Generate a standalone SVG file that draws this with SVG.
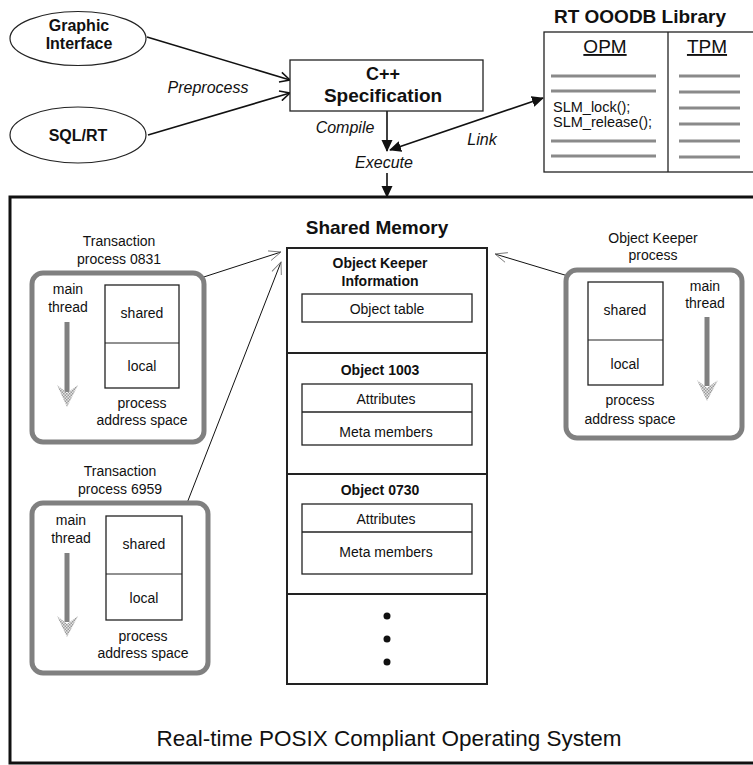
<svg xmlns="http://www.w3.org/2000/svg" width="753" height="765" viewBox="0 0 753 765">
<style>
text{font-family:"Liberation Sans",Arial,sans-serif;fill:#111}
.b{font-weight:bold}
.i{font-style:italic}
.s14{font-size:14px}
.box{fill:#fff;stroke:#222;stroke-width:1.3}
.proc{fill:#fff;stroke:#808080;stroke-width:5}
.gl{stroke:#8a8a8a;stroke-width:3}
.c{stroke:#111;stroke-width:1.6;fill:none}
.thin{stroke:#111;stroke-width:1;fill:none}
.shaft{stroke:#808080;stroke-width:5}
</style>
<defs>
<marker id="open" viewBox="0 0 12 12" refX="11" refY="6" markerWidth="12" markerHeight="12" markerUnits="userSpaceOnUse" orient="auto">
<path d="M1,1 L11,6 L1,11" fill="none" stroke="#111" stroke-width="1.5"/>
</marker>
<marker id="thinopen" viewBox="0 0 14 12" refX="13" refY="6" markerWidth="14" markerHeight="12" markerUnits="userSpaceOnUse" orient="auto">
<path d="M1,1 L13,6 L1,11" fill="none" stroke="#777" stroke-width="0.9"/>
</marker>
<marker id="solid" viewBox="0 0 12 12" refX="11" refY="6" markerWidth="12" markerHeight="12" markerUnits="userSpaceOnUse" orient="auto-start-reverse">
<path d="M0,0.5 L12,6 L0,11.5 Z" fill="#111"/>
</marker>
<pattern id="hatch" width="3" height="3" patternUnits="userSpaceOnUse">
<rect width="3" height="3" fill="#e4e4e4"/>
<rect width="1.5" height="1.5" fill="#9a9a9a"/>
<rect x="1.5" y="1.5" width="1.5" height="1.5" fill="#9a9a9a"/>
</pattern>
</defs>

<g id="connectors">
<line class="c" x1="147" y1="37" x2="290" y2="80" marker-end="url(#open)"/>
<line class="c" x1="148" y1="135" x2="290" y2="93" marker-end="url(#open)"/>
<line class="c" x1="387" y1="111" x2="387" y2="151" marker-end="url(#solid)"/>
<line class="c" x1="390" y1="150" x2="543" y2="98" marker-start="url(#solid)" marker-end="url(#solid)"/>
<line class="c" x1="387" y1="173" x2="387" y2="197" marker-end="url(#solid)"/>
<line class="thin" x1="179" y1="285" x2="281" y2="252" marker-end="url(#thinopen)"/>
<line class="thin" x1="182" y1="516" x2="281" y2="262" marker-end="url(#thinopen)"/>
<line class="thin" x1="588" y1="282" x2="495" y2="254" marker-end="url(#thinopen)"/>
<text class="i" x="208" y="93" font-size="16" text-anchor="middle">Preprocess</text>
<text class="i" x="345" y="133" font-size="16" text-anchor="middle">Compile</text>
<text class="i" x="384" y="168" font-size="16" text-anchor="middle">Execute</text>
<text class="i" x="482" y="145" font-size="16" text-anchor="middle">Link</text>
</g>

<g id="graphic-interface">
<ellipse cx="78" cy="38.5" rx="68" ry="27" fill="#fff" stroke="#222" stroke-width="1.2"/>
<text class="b" x="79" y="31" font-size="16" text-anchor="middle">Graphic</text>
<text class="b" x="79" y="49" font-size="16" text-anchor="middle">Interface</text>
</g>

<g id="sql-rt">
<ellipse cx="78" cy="135" rx="68" ry="28" fill="#fff" stroke="#222" stroke-width="1.2"/>
<text class="b" x="78" y="141" font-size="16" text-anchor="middle">SQL/RT</text>
</g>

<g id="cpp-spec">
<rect class="box" x="290" y="60" width="193" height="51"/>
<text class="b" x="383" y="80" font-size="18" text-anchor="middle">C++</text>
<text class="b" x="383" y="102" font-size="19" text-anchor="middle">Specification</text>
</g>

<g id="library">
<text class="b" x="640" y="23" font-size="19" text-anchor="middle">RT OOODB Library</text>
<rect class="box" x="544" y="32" width="212" height="140"/>
<line x1="668" y1="32" x2="668" y2="172" stroke="#222" stroke-width="1.3"/>
<text x="605" y="53" font-size="19" text-anchor="middle" text-decoration="underline">OPM</text>
<text x="707" y="53" font-size="19" text-anchor="middle" text-decoration="underline">TPM</text>
<line class="gl" x1="551" y1="76" x2="656" y2="76"/>
<line class="gl" x1="551" y1="91" x2="656" y2="91"/>
<text x="553" y="112" font-size="14.5">SLM_lock();</text>
<text x="553" y="127" font-size="14.5">SLM_release();</text>
<line class="gl" x1="551" y1="141" x2="656" y2="141"/>
<line class="gl" x1="551" y1="156" x2="656" y2="156"/>
<line class="gl" x1="679" y1="76" x2="740" y2="76"/>
<line class="gl" x1="679" y1="92" x2="740" y2="92"/>
<line class="gl" x1="679" y1="108" x2="740" y2="108"/>
<line class="gl" x1="679" y1="124" x2="740" y2="124"/>
<line class="gl" x1="679" y1="141" x2="740" y2="141"/>
<line class="gl" x1="679" y1="157" x2="740" y2="157"/>
</g>

<g id="os">
<rect x="10" y="197" width="750" height="566" fill="none" stroke="#111" stroke-width="3"/>
<text x="389" y="746" font-size="22.5" text-anchor="middle">Real-time POSIX Compliant Operating System</text>
</g>

<g id="shared-memory">
<text class="b" x="377" y="234" font-size="19" text-anchor="middle">Shared Memory</text>
<rect x="287" y="248" width="200" height="436" fill="#fff" stroke="#222" stroke-width="2"/>
<line x1="287" y1="353" x2="487" y2="353" stroke="#222" stroke-width="2"/>
<line x1="287" y1="474" x2="487" y2="474" stroke="#222" stroke-width="2"/>
<line x1="287" y1="594" x2="487" y2="594" stroke="#222" stroke-width="2"/>
</g>

<g id="object-keeper-info">
<text class="b" x="380" y="268" font-size="14" text-anchor="middle">Object Keeper</text>
<text class="b" x="380" y="286" font-size="14" text-anchor="middle">Information</text>
<rect class="box" x="302" y="294" width="170" height="28"/>
<text class="s14" x="387" y="314" text-anchor="middle">Object table</text>
</g>

<g id="object-1003">
<text class="b" x="380" y="375" font-size="14" text-anchor="middle">Object 1003</text>
<rect class="box" x="302" y="384" width="170" height="61"/>
<line x1="302" y1="412" x2="472" y2="412" stroke="#222" stroke-width="1.3"/>
<text class="s14" x="386" y="404" text-anchor="middle">Attributes</text>
<text class="s14" x="386" y="437" text-anchor="middle">Meta members</text>
</g>

<g id="object-0730">
<text class="b" x="380" y="495" font-size="14" text-anchor="middle">Object 0730</text>
<rect class="box" x="302" y="504" width="170" height="70"/>
<line x1="302" y1="532" x2="472" y2="532" stroke="#222" stroke-width="1.3"/>
<text class="s14" x="386" y="524" text-anchor="middle">Attributes</text>
<text class="s14" x="386" y="557" text-anchor="middle">Meta members</text>
</g>

<g id="more-objects">
<circle cx="387" cy="616" r="3.5" fill="#111"/>
<circle cx="387" cy="639" r="3.5" fill="#111"/>
<circle cx="387" cy="662" r="3.5" fill="#111"/>
</g>

<g id="transaction-0831">
<text class="s14" x="119" y="246" text-anchor="middle">Transaction</text>
<text class="s14" x="119" y="264" text-anchor="middle">process 0831</text>
<rect class="proc" x="32" y="273" width="172" height="169" rx="11"/>
<text class="s14" x="68" y="294" text-anchor="middle">main</text>
<text class="s14" x="68" y="312" text-anchor="middle">thread</text>
<line class="shaft" x1="67" y1="322" x2="67" y2="392"/>
<path d="M57,385 L67,393 L78,385 L67,407 Z" fill="url(#hatch)"/>
<rect class="box" x="105" y="285" width="74" height="103" stroke-width="1"/>
<line x1="105" y1="343" x2="179" y2="343" stroke="#222" stroke-width="1"/>
<text class="s14" x="142" y="318" text-anchor="middle">shared</text>
<text class="s14" x="142" y="371" text-anchor="middle">local</text>
<text class="s14" x="142" y="408" text-anchor="middle">process</text>
<text class="s14" x="142" y="425" text-anchor="middle">address space</text>
</g>

<g id="transaction-6959">
<text class="s14" x="120" y="476" text-anchor="middle">Transaction</text>
<text class="s14" x="120" y="494" text-anchor="middle">process 6959</text>
<rect class="proc" x="32" y="503" width="176" height="170" rx="11"/>
<text class="s14" x="71" y="525" text-anchor="middle">main</text>
<text class="s14" x="71" y="543" text-anchor="middle">thread</text>
<line class="shaft" x1="67" y1="553" x2="67" y2="622"/>
<path d="M57,616 L67,624 L78,616 L67,637 Z" fill="url(#hatch)"/>
<rect class="box" x="106" y="516" width="76" height="104" stroke-width="1"/>
<line x1="106" y1="574" x2="182" y2="574" stroke="#222" stroke-width="1"/>
<text class="s14" x="144" y="549" text-anchor="middle">shared</text>
<text class="s14" x="144" y="603" text-anchor="middle">local</text>
<text class="s14" x="143" y="641" text-anchor="middle">process</text>
<text class="s14" x="143" y="658" text-anchor="middle">address space</text>
</g>

<g id="object-keeper-process">
<text class="s14" x="653" y="243" text-anchor="middle">Object Keeper</text>
<text class="s14" x="653" y="260" text-anchor="middle">process</text>
<rect class="proc" x="566" y="270" width="176" height="168" rx="11"/>
<text class="s14" x="705" y="291" text-anchor="middle">main</text>
<text class="s14" x="705" y="308" text-anchor="middle">thread</text>
<line class="shaft" x1="707" y1="317" x2="707" y2="386"/>
<path d="M697,380 L707,388 L718,380 L707,401 Z" fill="url(#hatch)"/>
<rect class="box" x="588" y="282" width="75" height="103" stroke-width="1"/>
<line x1="588" y1="340" x2="663" y2="340" stroke="#222" stroke-width="1"/>
<text class="s14" x="625" y="315" text-anchor="middle">shared</text>
<text class="s14" x="625" y="369" text-anchor="middle">local</text>
<text class="s14" x="630" y="405" text-anchor="middle">process</text>
<text class="s14" x="630" y="424" text-anchor="middle">address space</text>
</g>
</svg>
